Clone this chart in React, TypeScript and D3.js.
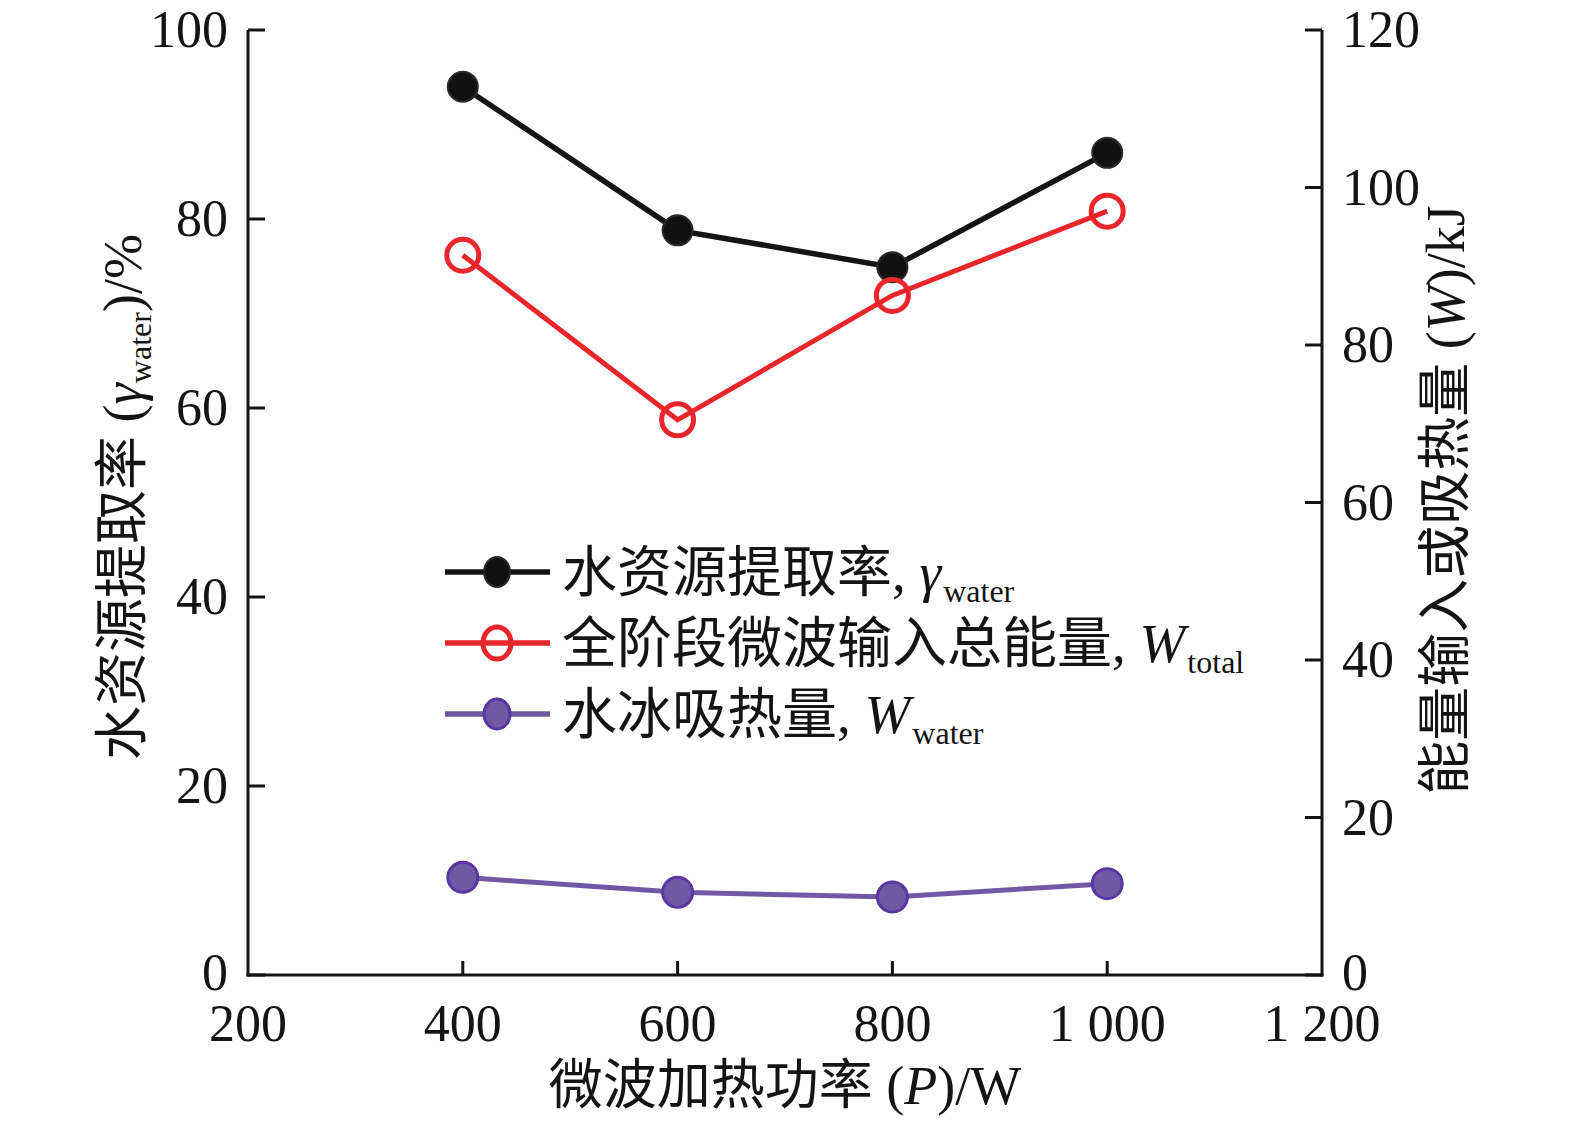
import React from "react";
import * as d3 from "d3";

const power = [400, 600, 800, 1000];
const extractionRate = [94.0, 78.8, 74.9, 87.0];
const totalEnergy = [91.4, 70.5, 86.3, 97.0];
const waterHeat = [12.4, 10.5, 9.9, 11.6];

const xTicks = [200, 400, 600, 800, 1000, 1200];
const yLeftTicks = [0, 20, 40, 60, 80, 100];
const yRightTicks = [0, 20, 40, 60, 80, 100, 120];

const W = 1575;
const H = 1126;
const L = 248, R = 1322, T = 30, B = 975;

const FONT = "'Liberation Serif', 'Times New Roman', 'Noto Sans CJK SC', serif";
const BLACK = "#141414";
const RED = "#e8262b";
const PURPLE = "#7158a4";
const PURPLE_DARK = "#5a37a0";

const fmt = (v: number) => (v >= 1000 ? `${Math.floor(v / 1000)} ${String(v % 1000).padStart(3, "0")}` : String(v));

export default function App() {
  const x = d3.scaleLinear().domain([200, 1200]).range([L, R]);
  const yL = d3.scaleLinear().domain([0, 100]).range([B, T]);
  const yR = d3.scaleLinear().domain([0, 120]).range([B, T]);

  const lineL = d3.line<number>().x((_, i) => x(power[i])).y((d) => yL(d));
  const lineR = d3.line<number>().x((_, i) => x(power[i])).y((d) => yR(d));

  const legendRows = [
    { y: 572, kind: "black", main: "水资源提取率, ", sym: "γ", sub: "water" },
    { y: 643, kind: "red", main: "全阶段微波输入总能量, ", sym: "W", sub: "total" },
    { y: 714, kind: "purple", main: "水冰吸热量, ", sym: "W", sub: "water" },
  ];

  const marker = (kind: string, cx: number, cy: number, key: string, rx = 15, ry = 15) => {
    if (kind === "black")
      return <ellipse key={key} cx={cx} cy={cy} rx={rx} ry={ry} fill="#111" stroke="#2a2a2a" strokeWidth={2} />;
    if (kind === "red")
      return <ellipse key={key} cx={cx} cy={cy} rx={rx + 1} ry={ry + 1} fill="none" stroke={RED} strokeWidth={5} />;
    return <ellipse key={key} cx={cx} cy={cy} rx={rx} ry={ry} fill={PURPLE} stroke={PURPLE_DARK} strokeWidth={3} />;
  };

  return (
    <svg width={W} height={H} style={{ position: "absolute", left: 0, top: 0, background: "#fff" }} fontFamily={FONT}>
      {/* axes */}
      <line x1={L} y1={T} x2={L} y2={B + 1.5} stroke={BLACK} strokeWidth={3} />
      <line x1={R} y1={T} x2={R} y2={B + 1.5} stroke={BLACK} strokeWidth={3} />
      <line x1={L - 1.5} y1={B} x2={R + 1.5} y2={B} stroke={BLACK} strokeWidth={3} />

      {yLeftTicks.map((t) => (
        <g key={"yl" + t}>
          <line x1={L} x2={L + 17} y1={yL(t)} y2={yL(t)} stroke={BLACK} strokeWidth={3} />
          <text x={L - 20} y={yL(t)} dy={t === 0 ? "0.28em" : "0.33em"} textAnchor="end" fontSize={52} fill={BLACK}>
            {t}
          </text>
        </g>
      ))}
      {yRightTicks.map((t) => (
        <g key={"yr" + t}>
          <line x1={R - 17} x2={R} y1={yR(t)} y2={yR(t)} stroke={BLACK} strokeWidth={3} />
          <text x={R + 20} y={yR(t)} dy={t === 0 ? "0.28em" : "0.33em"} textAnchor="start" fontSize={52} fill={BLACK}>
            {t}
          </text>
        </g>
      ))}
      {xTicks.map((t) => (
        <g key={"x" + t}>
          {t > 200 && t < 1200 && (
            <line x1={x(t)} x2={x(t)} y1={B} y2={B - 14} stroke={BLACK} strokeWidth={3} />
          )}
          <text x={x(t)} y={1041} textAnchor="middle" fontSize={52} fill={BLACK}>
            {fmt(t)}
          </text>
        </g>
      ))}

      {/* axis titles */}
      <text x={785} y={1104} textAnchor="middle" fontSize={54} fill={BLACK}>
        微波加热功率 (<tspan fontStyle="italic">P</tspan>)/W
      </text>
      <text transform="translate(141,497) rotate(-90)" textAnchor="middle" fontSize={54} fill={BLACK}>
        水资源提取率 (<tspan fontStyle="italic">γ</tspan>
        <tspan fontSize={32} dy={10}>water</tspan>
        <tspan dy={-10}>)/%</tspan>
      </text>
      <text transform="translate(1464,500) rotate(-90)" textAnchor="middle" fontSize={54} fill={BLACK}>
        能量输入或吸热量 (<tspan fontStyle="italic">W</tspan>)/kJ
      </text>

      {/* series */}
      <path d={lineL(extractionRate) || ""} fill="none" stroke={BLACK} strokeWidth={5.5} />
      {extractionRate.map((v, i) => marker("black", x(power[i]), yL(v), "b" + i))}
      <path d={lineR(waterHeat) || ""} fill="none" stroke={PURPLE} strokeWidth={5} />
      {waterHeat.map((v, i) => marker("purple", x(power[i]), yR(v), "p" + i))}
      <path d={lineR(totalEnergy) || ""} fill="none" stroke={RED} strokeWidth={5} />
      {totalEnergy.map((v, i) => marker("red", x(power[i]), yR(v), "r" + i))}

      {/* legend */}
      {legendRows.map((row) => {
        const col = row.kind === "black" ? BLACK : row.kind === "red" ? RED : PURPLE;
        return (
          <g key={row.kind}>
            <line x1={445} x2={550} y1={row.y} y2={row.y} stroke={col} strokeWidth={5.5} />
            {marker(row.kind, 497, row.y, "lg" + row.kind, 13, 15)}
            <text x={562} y={row.y + 19} fontSize={55} fill={BLACK}>
              {row.main}
              <tspan fontStyle="italic">{row.sym}</tspan>
              <tspan fontSize={32} dy={11} dx={2}>{row.sub}</tspan>
            </text>
          </g>
        );
      })}
    </svg>
  );
}
